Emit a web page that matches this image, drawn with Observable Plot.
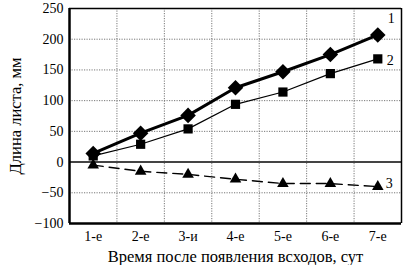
<!DOCTYPE html>
<html><head><meta charset="utf-8">
<script src="https://cdn.jsdelivr.net/npm/d3@7"></script>
<script src="https://cdn.jsdelivr.net/npm/@observablehq/plot@0.6"></script>
<style>
body{margin:0;background:#fff}
#chart svg, #chart svg text{font-family:'Liberation Serif','Times New Roman',serif !important;font-size:14px !important;fill:#000}
#chart svg g[aria-label$="axis label"] text{font-size:16.5px !important}
</style>
</head><body><div id="chart"></div>
<script>
const categories = ["1-е","2-е","3-и","4-е","5-е","6-е","7-е"];
const series1 = [14, 47, 76, 121, 147, 175, 207];
const series2 = [10, 29, 54, 94, 114, 144, 168];
const series3 = [-5, -15, -20, -28, -35, -35, -40];
const yTicks = [-100, -50, 0, 50, 100, 150, 200, 250];
const labels = ["1","2","3"];

const rows = (vals) => vals.map((v, i) => ({i, v}));
const d1 = rows(series1), d2 = rows(series2), d3r = rows(series3);
const boundaries = d3.range(0.5, categories.length - 1, 1);

const plot = Plot.plot({
  width: 414, height: 265,
  marginLeft: 69, marginRight: 13, marginTop: 8, marginBottom: 42,
  style: {background: "#fff"},
  x: {domain: [-0.5, categories.length - 0.5], ticks: d3.range(categories.length),
      tickFormat: i => categories[i], tickSize: 0, tickPadding: 8,
      label: "Время после появления всходов, сут", labelAnchor: "center", labelArrow: "none", labelOffset: 38},
  y: {domain: [-100, 250], ticks: yTicks, tickSize: 0, tickPadding: 6,
      label: "Длина листа, мм", labelAnchor: "center", labelArrow: "none", labelOffset: 60},
  marks: [
    Plot.ruleY(yTicks.filter(t => t !== 0 && t !== -100 && t !== 250), {stroke: "#777", strokeDasharray: "1.2,1.3", strokeWidth: 1}),
    Plot.ruleX(boundaries, {stroke: "#777", strokeDasharray: "1.2,1.3", strokeWidth: 1}),
    Plot.ruleY([0], {stroke: "#444", strokeWidth: 2}),
    Plot.ruleY([250], {stroke: "#000", strokeWidth: 1.5}),
    Plot.ruleX([categories.length - 0.5], {stroke: "#000", strokeWidth: 1.5}),
    Plot.ruleX([-0.5], {stroke: "#000", strokeWidth: 2.5}),
    Plot.ruleY([-100], {stroke: "#000", strokeWidth: 2.5}),
    Plot.line(d3r, {x: "i", y: "v", stroke: "#000", strokeWidth: 1.4, strokeDasharray: "10,6"}),
    Plot.dot(d3r, {x: "i", y: "v", symbol: "triangle", r: 4.3, fill: "#000", stroke: "none"}),
    Plot.line(d2, {x: "i", y: "v", stroke: "#000", strokeWidth: 1.2}),
    Plot.dot(d2, {x: "i", y: "v", symbol: "square", r: 5.2, fill: "#000", stroke: "none"}),
    Plot.line(d1, {x: "i", y: "v", stroke: "#000", strokeWidth: 3}),
    Plot.dot(d1, {x: "i", y: "v", symbol: "diamond2", r: 7, fill: "#000", stroke: "none"}),
    Plot.text([{i: 6, v: series1[6], t: labels[0]}], {x: "i", y: "v", text: "t", dx: 10, dy: -16, textAnchor: "start"}),
    Plot.text([{i: 6, v: series2[6], t: labels[1]}], {x: "i", y: "v", text: "t", dx: 9, dy: 2, textAnchor: "start"}),
    Plot.text([{i: 6, v: series3[6], t: labels[2]}], {x: "i", y: "v", text: "t", dx: 8, dy: -3, textAnchor: "start"})
  ]
});
document.getElementById("chart").appendChild(plot);
</script></body></html>
